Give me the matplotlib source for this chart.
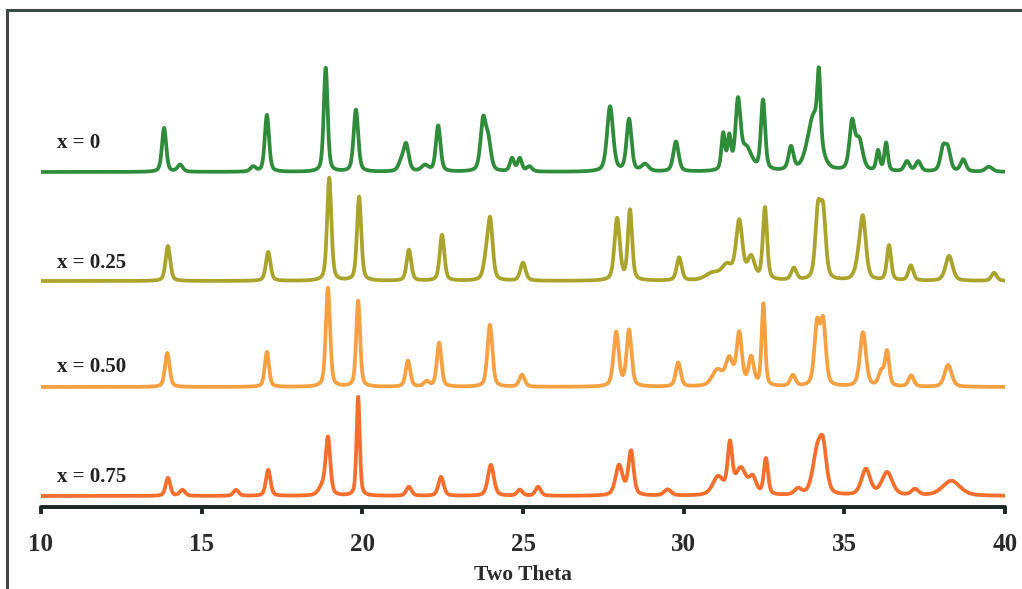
import numpy as np
import matplotlib
matplotlib.use("Agg")
import matplotlib.pyplot as plt
from matplotlib.lines import Line2D

# ---- data (2-theta in degrees, intensity in arbitrary units) ----
labels = ["x = 0", "x = 0.25", "x = 0.50", "x = 0.75"]
colors = ["#2f8c3b", "#aaa42c", "#f6a042", "#f66e2c"]
offsets = [335, 226, 120, 11]

peaks_x0_pos = [13.83, 14.33, 16.6, 17.03, 18.86, 19.80, 21.2, 21.36, 21.95, 22.36, 23.76, 23.92,
                24.66, 24.9, 25.2, 27.71, 28.30, 28.8, 29.76, 31.23, 31.42, 31.69, 31.95, 32.47,
                33.34, 34.05, 34.21, 35.24, 35.46, 36.05, 36.3, 36.95, 37.3, 38.07, 38.22, 38.7, 39.5]
peaks_x0_int = [44, 7, 5, 57, 104, 62, 8, 27, 6, 46, 50, 28,
                13, 13, 5, 65, 52, 7, 30, 36, 32, 66, 22, 70,
                23, 55, 66, 46, 30, 20, 28, 10, 10, 22, 21, 12, 5]
peaks_x0_fw = [0.12, 0.15, 0.15, 0.12, 0.11, 0.13, 0.15, 0.15, 0.2, 0.13, 0.15, 0.15,
               0.12, 0.12, 0.15, 0.17, 0.14, 0.2, 0.15, 0.1, 0.1, 0.14, 0.3, 0.12,
               0.14, 0.35, 0.09, 0.15, 0.2, 0.1, 0.1, 0.15, 0.15, 0.15, 0.15, 0.15, 0.2]

peaks_x25_pos = [13.95, 17.07, 18.97, 19.9, 21.45, 22.48, 23.85, 23.98, 25.0, 27.93, 28.33, 29.86,
                 30.9, 31.35, 31.73, 32.1, 32.53, 33.43, 34.18, 34.34, 35.45, 35.58, 36.39, 37.07,
                 38.26, 39.66]
peaks_x25_int = [35, 29, 103, 84, 31, 46, 18, 58, 18, 62, 70, 23,
                 7, 14, 58, 22, 72, 12, 66, 64, 14, 58, 35, 15,
                 25, 8]
peaks_x25_fw = [0.13, 0.13, 0.12, 0.12, 0.13, 0.13, 0.15, 0.14, 0.15, 0.15, 0.12, 0.14,
                0.4, 0.3, 0.18, 0.2, 0.12, 0.15, 0.15, 0.15, 0.2, 0.17, 0.12, 0.14,
                0.2, 0.15]

peaks_x50_pos = [13.93, 17.03, 18.93, 19.87, 21.42, 22.0, 22.39, 23.97, 24.97, 27.9, 28.3, 29.83,
                 31.05, 31.42, 31.73, 32.1, 32.48, 33.4, 34.15, 34.34, 35.58, 36.15, 36.33, 37.08,
                 38.23]
peaks_x50_int = [34, 35, 99, 86, 26, 5, 44, 62, 12, 54, 56, 24,
                 16, 26, 52, 28, 82, 11, 60, 62, 54, 14, 34, 11,
                 22]
peaks_x50_fw = [0.13, 0.12, 0.12, 0.11, 0.13, 0.15, 0.13, 0.14, 0.15, 0.15, 0.14, 0.14,
                0.3, 0.2, 0.15, 0.15, 0.1, 0.15, 0.15, 0.15, 0.17, 0.15, 0.12, 0.15,
                0.2]

peaks_x75_pos = [13.95, 14.4, 16.07, 17.07, 18.75, 18.93, 19.87, 21.45, 22.45, 24.0, 24.9, 25.47,
                 27.99, 28.36, 29.5, 31.07, 31.44, 31.78, 32.15, 32.56, 33.56, 34.15, 34.34,
                 35.67, 36.33, 37.2, 38.33]
peaks_x75_int = [18, 6, 6, 26, 8, 57, 99, 9, 19, 31, 6, 9,
                 30, 44, 6, 18, 48, 26, 16, 36, 6, 40, 42,
                 26, 23, 6, 15]
peaks_x75_fw = [0.13, 0.15, 0.15, 0.13, 0.2, 0.13, 0.09, 0.15, 0.15, 0.17, 0.15, 0.15,
                0.2, 0.15, 0.2, 0.3, 0.13, 0.3, 0.2, 0.12, 0.2, 0.25, 0.2,
                0.25, 0.3, 0.2, 0.5]

series = [
    (peaks_x0_pos, peaks_x0_int, peaks_x0_fw),
    (peaks_x25_pos, peaks_x25_int, peaks_x25_fw),
    (peaks_x50_pos, peaks_x50_int, peaks_x50_fw),
    (peaks_x75_pos, peaks_x75_int, peaks_x75_fw),
]

xticks = [10, 15, 20, 25, 30, 35, 40]
xlabel = "Two Theta"

# ---- build profiles (pseudo-Voigt peak shapes with instrumental broadening) ----
tt = np.linspace(10, 40, 3001)
BROADEN = 1.3


def profile(pos, inten, fw, eta=0.45):
    y = np.zeros_like(tt)
    for p, h, w in zip(pos, inten, fw):
        hw = BROADEN * w / 2.0
        lor = 1.0 / (1.0 + ((tt - p) / hw) ** 2)
        gau = np.exp(-np.log(2) * ((tt - p) / hw) ** 2)
        y += h * (eta * lor + (1 - eta) * gau)
    return y


W, H = 1022, 589
fig = plt.figure(figsize=(W / 100, H / 100), dpi=100)
fig.patch.set_facecolor("white")

ax_left, ax_right, ax_bottom, ax_top = 41, 1005, 507, 20
ax = fig.add_axes([ax_left / W, (H - ax_bottom) / H, (ax_right - ax_left) / W,
                   (ax_bottom - ax_top) / H])
ax.set_xlim(10, 40)
ax.set_ylim(0, ax_bottom - ax_top)

for (pos, inten, fw), off, col in zip(series, offsets, colors):
    ax.plot(tt, profile(pos, inten, fw) + off, color=col, lw=2.7, solid_joinstyle="round",
            zorder=3)

label_y = [364, 244, 140, 30]
for lab, ly in zip(labels, label_y):
    ax.text(10.5, ly, lab, fontsize=15, fontweight="bold", family="Liberation Serif",
            color="#222222", va="center", ha="left", zorder=4)

for s in ["top", "right", "left"]:
    ax.spines[s].set_visible(False)
ax.spines["bottom"].set_linewidth(2.8)
ax.spines["bottom"].set_color("#1b2626")
ax.spines["bottom"].set_capstyle("round")
ax.set_yticks([])
ax.set_xticks(xticks)
ax.set_xticklabels([str(t) for t in xticks], fontsize=18, fontweight="bold",
                   family="Liberation Serif", color="#2a2a2a")
ax.tick_params(axis="x", direction="out", length=5, width=2.8, color="#1b2626", pad=14)
for tl in ax.xaxis.get_ticklines():
    tl.set_solid_capstyle("round")
ax.set_xlabel(xlabel, fontsize=15.5, fontweight="bold", family="Liberation Serif",
              color="#2a2a2a", labelpad=6)

# outer frame (left and top edges visible in the reference)
fig.add_artist(Line2D([7 / W, 7 / W], [0, 1 - 10 / H], color="#444444", lw=2.2,
                      transform=fig.transFigure))
fig.add_artist(Line2D([7 / W, 1], [1 - 10 / H, 1 - 10 / H], color="#3d4a48", lw=2.2,
                      transform=fig.transFigure))

fig.savefig("out.png", dpi=100, facecolor="white")
